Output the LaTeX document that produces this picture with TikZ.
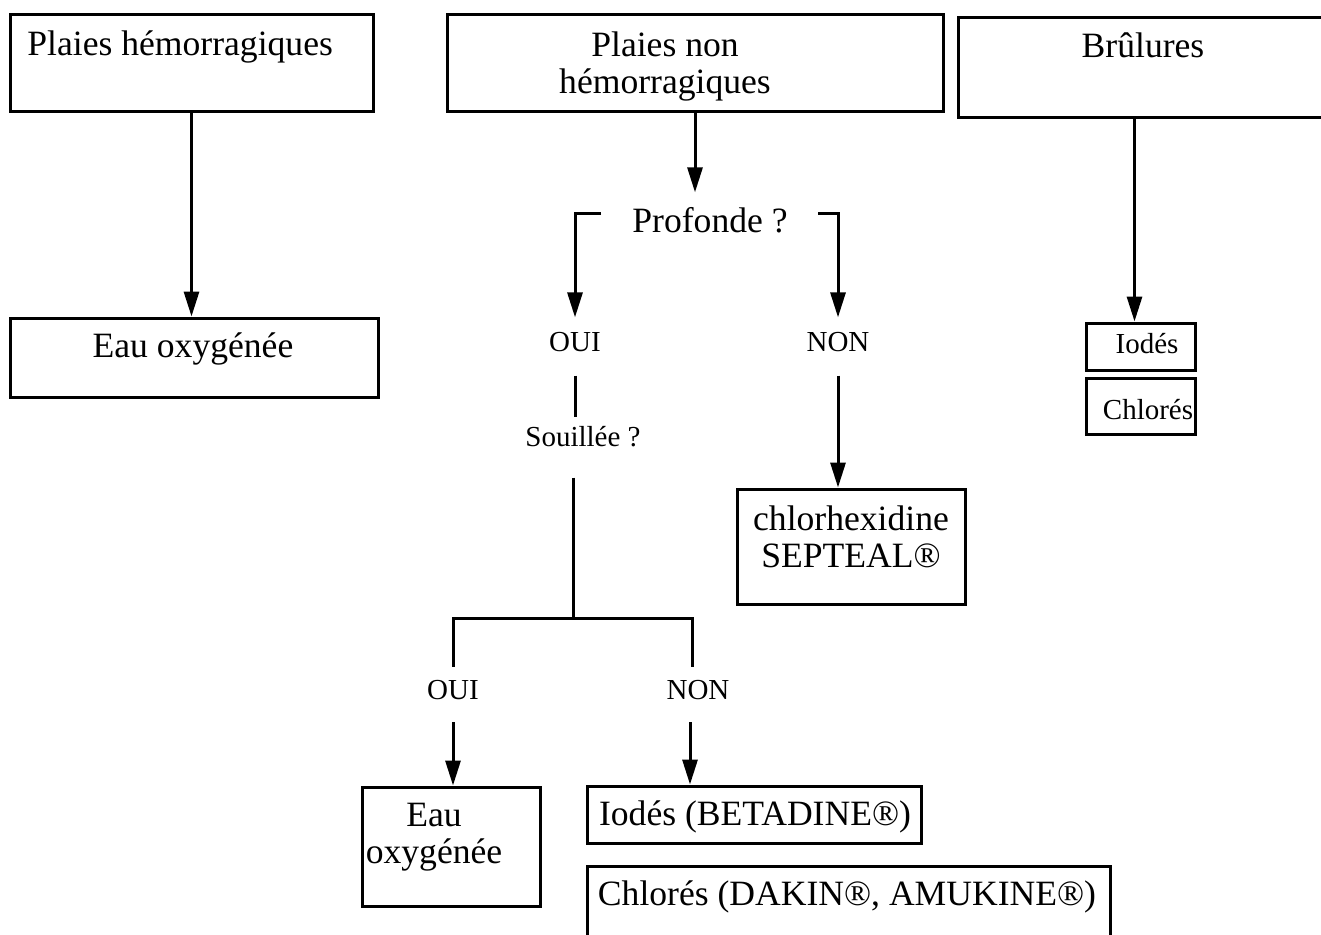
\documentclass[tikz,border=0pt]{standalone}
\usepackage{fontspec}
\setmainfont{Liberation Serif}
\usetikzlibrary{arrows.meta,fit}
\newcommand{\grand}{\fontsize{17.8}{18.5}\selectfont}
\newcommand{\petit}{\fontsize{14.5}{16}\selectfont}
\tikzset{
	boite/.style={draw, line width=1.5pt, inner sep=0pt},
	texte/.style={font=\grand, inner sep=0pt, align=center},
	reponse/.style={font=\petit, inner sep=0pt},
	trait/.style={line width=1.5pt},
	fleche/.style={line width=1.5pt, -{Triangle[length=12.5pt,width=7.5pt]}}
}
\begin{document}
\begin{tikzpicture}[x=0.5pt, y=-0.5pt]
			\useasboundingbox (0,0) rectangle (1321,934);
			\clip (0,0) rectangle (1321,934);
			\node[boite, fit={(10,14) (373,111)}] (ph) {};
			\node[boite, fit={(447,14) (943,111)}] (pnh) {};
			\node[boite, fit={(958,17) (1340,117)}] (br) {};
			\node[boite, fit={(10,318) (378,397)}] (eau1) {};
			\node[boite, fit={(1086,323) (1195,370)}] (iod) {};
			\node[boite, fit={(1086,378) (1195,434)}] (chl) {};
			\node[boite, fit={(737,489) (965,604)}] (chx) {};
			\node[boite, fit={(362,787) (540,906)}] (eau2) {};
			\node[boite, fit={(587,786) (921,843)}] (bet) {};
			\node[boite, fit={(587,866) (1110,960)}] (dak) {};
			\node[texte, anchor=west] (tph) at (27,46.5) {Plaies hémorragiques};
			\node[texte] (tpnh) at (665,66.5) {Plaies non\\hémorragiques};
			\node[texte] (tbr) at (1143,45) {Brûlures};
			\node[texte] (teau1) at (193,349) {Eau oxygénée};
			\node[texte] (prof) at (710,220.5) {Profonde ?};
			\node[reponse] (oui1) at (575,342.5) {OUI};
			\node[reponse] (non1) at (838,342.5) {NON};
			\node[reponse] (souil) at (583,437) {Souillée ?};
			\node[reponse] (oui2) at (453,690) {OUI};
			\node[reponse] (non2) at (698,690) {NON};
			\node[reponse] (tiod) at (1147,344) {Iodés};
			\node[reponse] (tchl) at (1148,410) {Chlorés};
			\node[texte] (tchx) at (851,537) {chlorhexidine\\SEPTEAL®};
			\node[texte] (teau2) at (434,837) {Eau\\oxygénée};
			\node[texte] (tbet) at (755,816.5) {Iodés (BETADINE®)};
			\node[texte] (tdak) at (847,896.5) {Chlorés (DAKIN®, AMUKINE®)};
			\coordinate (g1) at (601,213);
			\coordinate (d1) at (818,213);
			\coordinate (j) at (573,618);
			\coordinate (n2) at ([xshift=-4pt]non2.south);
			\coordinate (b1) at ([xshift=-3pt]iod.north);
			\draw[fleche] (ph.south) -- (ph.south |- eau1.north);
			\draw[fleche, shorten >=7.5pt] (pnh.south) -- (pnh.south |- prof.north);
			\draw[fleche, shorten >=7.5pt] (g1) -| (oui1.north);
			\draw[fleche, shorten >=7.5pt] (d1) -| (non1.north);
			\draw[trait, shorten <=11.5pt, shorten >=4.5pt] (oui1.south) -- (oui1.south |- souil.north);
			\draw[trait, shorten <=15pt] (souil.south -| j) -- (j);
			\draw[trait, shorten <=6.5pt, shorten >=6.5pt] (oui2.north) |- (j) -| ([xshift=-3pt]non2.north);
			\draw[fleche, shorten <=11pt] (oui2.south) -- (oui2.south |- eau2.north);
			\draw[fleche, shorten <=11pt] (n2) -- (n2 |- bet.north);
			\draw[fleche, shorten <=11.5pt] (non1.south) -- (non1.south |- chx.north);
			\draw[fleche] (b1 |- br.south) -- (b1);
		\end{tikzpicture}
\end{document}
